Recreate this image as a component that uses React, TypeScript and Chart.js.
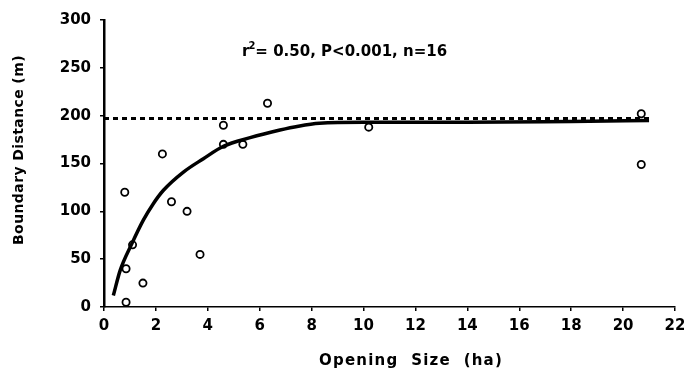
import React, { useEffect, useRef } from "react";
import { Chart, registerables } from "chart.js";

Chart.register(...registerables);

const obsX = [0.8, 0.85, 0.85, 1.1, 1.5, 2.25, 2.6, 3.2, 3.7, 4.6, 4.6, 5.35, 6.3, 10.2, 20.7, 20.7];
const obsY = [120, 40, 5, 65, 25, 160, 110, 100, 55, 190, 170, 170, 213, 188, 202, 149];

const fitX = [0.36, 0.62, 1.07, 1.52, 1.9, 2.29, 3.06, 3.83, 4.6, 5.63, 6.78, 7.49, 8.3, 10, 14, 18, 21];
const fitY = [12, 38, 66, 91, 108, 122, 141, 155, 168, 177, 185, 189, 192, 193, 193, 194, 195];

const refX = [0, 21];
const refY = [197, 197];

const xTicks = [0, 2, 4, 6, 8, 10, 12, 14, 16, 18, 20, 22];
const yTicks = [0, 50, 100, 150, 200, 250, 300];

const xTitle = "Opening  Size  (ha)";
const yTitle = "Boundary Distance (m)";
const statR = "r";
const statSup = "2";
const statRest = "= 0.50, P<0.001, n=16";

const FONT = "'DejaVu Sans', sans-serif";

export default function App() {
  const ref = useRef<HTMLCanvasElement | null>(null);
  useEffect(() => {
    if (!ref.current) return;
    const textPlugin = {
      id: "texts",
      afterDraw(chart: any) {
        const ctx = chart.ctx;
        ctx.save();
        ctx.fillStyle = "#000";
        // x title
        ctx.font = `bold 15px ${FONT}`;
        ctx.textAlign = "center";
        ctx.textBaseline = "middle";
        (ctx as any).letterSpacing = "1.2px";
        ctx.fillText(xTitle, 411, 361);
        (ctx as any).letterSpacing = "0px";
        // y title
        ctx.save();
        ctx.translate(19, 150);
        ctx.rotate(-Math.PI / 2);
        ctx.font = `bold 14px ${FONT}`;
        (ctx as any).letterSpacing = "0.4px";
        ctx.fillText(yTitle, 0, 0);
        (ctx as any).letterSpacing = "0px";
        ctx.restore();
        // stats annotation
        ctx.textAlign = "left";
        ctx.textBaseline = "alphabetic";
        const x0 = 242;
        const base = 56;
        ctx.font = `bold 15px ${FONT}`;
        ctx.fillText(statR, x0, base);
        const wr = ctx.measureText(statR).width;
        ctx.font = `bold 10px ${FONT}`;
        ctx.fillText(statSup, x0 + wr - 1, base - 7);
        const ws = ctx.measureText(statSup).width;
        ctx.font = `bold 15px ${FONT}`;
        ctx.fillText(statRest, x0 + wr + ws - 1, base);
        ctx.restore();
      },
    };
    const chart = new Chart(ref.current, {
      type: "scatter",
      data: {
        datasets: [
          {
            label: "reference",
            type: "line",
            data: refX.map((x, i) => ({ x, y: refY[i] })),
            borderColor: "#000",
            borderWidth: 3,
            borderDash: [5, 4],
            pointRadius: 0,
            fill: false,
          },
          {
            label: "fit",
            type: "line",
            data: fitX.map((x, i) => ({ x, y: fitY[i] })),
            borderColor: "#000",
            borderWidth: 3.5,
            cubicInterpolationMode: "monotone",
            pointRadius: 0,
            fill: false,
          },
          {
            label: "observed",
            data: obsX.map((x, i) => ({ x, y: obsY[i] })),
            backgroundColor: "#fff",
            borderColor: "#000",
            borderWidth: 1.8,
            pointRadius: 3.6,
          },
        ],
      },
      options: {
        responsive: false,
        animation: false,
        layout: { padding: { top: 20, right: 9, left: 0, bottom: 0 } },
        plugins: { legend: { display: false }, tooltip: { enabled: false } },
        scales: {
          x: {
            type: "linear",
            min: 0,
            max: 22,
            afterFit: (s: any) => {
              s.height = 68;
              s.paddingRight = 0;
              s.paddingLeft = 0;
            },
            afterBuildTicks: (s: any) => {
              s.ticks = xTicks.map((v) => ({ value: v }));
            },
            ticks: {
              color: "#000",
              font: { family: FONT, size: 15, weight: "bold" },
              padding: 6,
              maxRotation: 0,
              autoSkip: false,
            },
            grid: {
              display: true,
              drawOnChartArea: false,
              drawTicks: true,
              tickLength: 4,
              color: "#000",
              lineWidth: 1.5,
            },
            border: { display: true, color: "#000", width: 1.5 },
          },
          y: {
            type: "linear",
            min: 0,
            max: 300,
            afterFit: (s: any) => {
              s.width = 104;
              s.paddingTop = 0;
              s.paddingBottom = 0;
            },
            afterBuildTicks: (s: any) => {
              s.ticks = yTicks.map((v) => ({ value: v }));
            },
            ticks: {
              color: "#000",
              font: { family: FONT, size: 15, weight: "bold" },
              padding: 9,
              autoSkip: false,
            },
            grid: {
              display: true,
              drawOnChartArea: false,
              drawTicks: true,
              tickLength: 4,
              color: "#000",
              lineWidth: 1.5,
            },
            border: { display: true, color: "#000", width: 2.5 },
          },
        },
      },
      plugins: [textPlugin],
    } as any);
    return () => chart.destroy();
  }, []);
  return (
    <div style={{ position: "absolute", left: 0, top: 0, width: 684, height: 375, background: "#fff" }}>
      <canvas ref={ref} width={684} height={375} style={{ display: "block" }} />
    </div>
  );
}
